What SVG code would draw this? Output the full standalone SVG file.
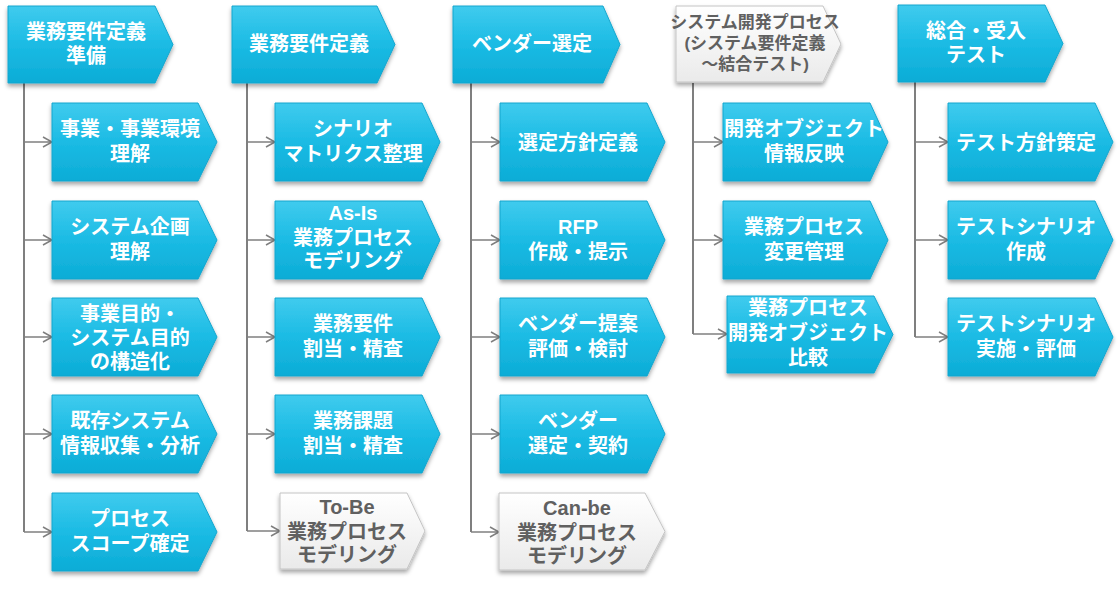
<svg xmlns="http://www.w3.org/2000/svg" width="1120" height="592" viewBox="0 0 1120 592">
<defs>
<linearGradient id="cy" x1="0" y1="0" x2="0" y2="1">
<stop offset="0" stop-color="#40CBEE"/>
<stop offset="0.5" stop-color="#1BBBE4"/>
<stop offset="1" stop-color="#0CACD6"/>
</linearGradient>
<linearGradient id="wh" x1="0" y1="0" x2="0" y2="1">
<stop offset="0" stop-color="#FFFFFF"/>
<stop offset="1" stop-color="#EAEAEA"/>
</linearGradient>
<filter id="sh" x="-10%" y="-10%" width="120%" height="130%">
<feDropShadow dx="0" dy="3" stdDeviation="2" flood-color="#000" flood-opacity="0.35"/>
</filter>
<marker id="ar" markerWidth="12" markerHeight="12" refX="10" refY="6" orient="auto" markerUnits="userSpaceOnUse">
<path d="M1,1 L10,6 L1,11" fill="none" stroke="#7F7F7F" stroke-width="1.5"/>
</marker>
</defs>
<style>
.c{fill:url(#cy);stroke:#14A6CE;stroke-width:1;filter:url(#sh)}
.w{fill:url(#wh);stroke:#C4C4C4;stroke-width:1;filter:url(#sh)}
text{font-family:"Liberation Sans","Noto Sans CJK JP",sans-serif;font-weight:bold;font-size:20px;text-anchor:middle}
.t{fill:#FFFFFF}
.g{fill:#606060}
.s{font-size:17px}
.v{stroke:#7F7F7F;stroke-width:2;fill:none}
.h{stroke:#7F7F7F;stroke-width:1.5;fill:none;marker-end:url(#ar)}
</style>
<rect width="1120" height="592" fill="#FFFFFF"/>

<g id="connectors">
<line class="v" x1="24" y1="83" x2="24" y2="532"/>
<line class="h" x1="24" y1="142" x2="52" y2="142"/>
<line class="h" x1="24" y1="240" x2="52" y2="240"/>
<line class="h" x1="24" y1="337" x2="52" y2="337"/>
<line class="h" x1="24" y1="434" x2="52" y2="434"/>
<line class="h" x1="24" y1="532" x2="52" y2="532"/>

<line class="v" x1="247" y1="83" x2="247" y2="531"/>
<line class="h" x1="247" y1="142" x2="275" y2="142"/>
<line class="h" x1="247" y1="240" x2="275" y2="240"/>
<line class="h" x1="247" y1="337" x2="275" y2="337"/>
<line class="h" x1="247" y1="434" x2="275" y2="434"/>
<line class="h" x1="247" y1="531" x2="280" y2="531"/>

<line class="v" x1="471" y1="83" x2="471" y2="532"/>
<line class="h" x1="471" y1="142" x2="500" y2="142"/>
<line class="h" x1="471" y1="240" x2="500" y2="240"/>
<line class="h" x1="471" y1="337" x2="500" y2="337"/>
<line class="h" x1="471" y1="434" x2="500" y2="434"/>
<line class="h" x1="471" y1="532" x2="499" y2="532"/>

<line class="v" x1="693" y1="83" x2="693" y2="334"/>
<line class="h" x1="693" y1="142" x2="723" y2="142"/>
<line class="h" x1="693" y1="240" x2="723" y2="240"/>
<line class="h" x1="693" y1="334" x2="727" y2="334"/>

<line class="v" x1="915" y1="82" x2="915" y2="337"/>
<line class="h" x1="915" y1="142" x2="948" y2="142"/>
<line class="h" x1="915" y1="240" x2="948" y2="240"/>
<line class="h" x1="915" y1="337" x2="948" y2="337"/>
</g>

<!-- Column 1 -->
<g id="h1"><path class="c" d="M8 6h147l18 38.5l-18 38.5h-147z"/>
<text class="t"><tspan x="86" y="39">業務要件定義</tspan><tspan x="86" y="63">準備</tspan></text></g>
<g id="n1a"><path class="c" d="M52 103h146l19 39l-19 39h-146z"/>
<text class="t"><tspan x="130" y="135.5">事業・事業環境</tspan><tspan x="130" y="160.5">理解</tspan></text></g>
<g id="n1b"><path class="c" d="M52 201h146l19 39l-19 39h-146z"/>
<text class="t"><tspan x="130" y="233.5">システム企画</tspan><tspan x="130" y="258.5">理解</tspan></text></g>
<g id="n1c"><path class="c" d="M52 298h146l19 39l-19 39h-146z"/>
<text class="t"><tspan x="130" y="320.5">事業目的・</tspan><tspan x="130" y="344.5">システム目的</tspan><tspan x="130" y="368.5">の構造化</tspan></text></g>
<g id="n1d"><path class="c" d="M52 395h146l19 39l-19 39h-146z"/>
<text class="t"><tspan x="130" y="427.5">既存システム</tspan><tspan x="130" y="452.5">情報収集・分析</tspan></text></g>
<g id="n1e"><path class="c" d="M52 493h146l19 39l-19 39h-146z"/>
<text class="t"><tspan x="130" y="525.5">プロセス</tspan><tspan x="130" y="550.5">スコープ確定</tspan></text></g>

<!-- Column 2 -->
<g id="h2"><path class="c" d="M232 6h145l18 38.5l-18 38.5h-145z"/>
<text class="t" x="309" y="51">業務要件定義</text></g>
<g id="n2a"><path class="c" d="M275 103h147l18 39l-18 39h-147z"/>
<text class="t"><tspan x="353" y="135.5">シナリオ</tspan><tspan x="353" y="160.5">マトリクス整理</tspan></text></g>
<g id="n2b"><path class="c" d="M275 201h147l18 39l-18 39h-147z"/>
<text class="t"><tspan x="353" y="220">As-Is</tspan><tspan x="353" y="244.5">業務プロセス</tspan><tspan x="353" y="268">モデリング</tspan></text></g>
<g id="n2c"><path class="c" d="M275 298h147l18 39l-18 39h-147z"/>
<text class="t"><tspan x="353" y="330.5">業務要件</tspan><tspan x="353" y="355.5">割当・精査</tspan></text></g>
<g id="n2d"><path class="c" d="M275 395h147l18 39l-18 39h-147z"/>
<text class="t"><tspan x="353" y="427.5">業務課題</tspan><tspan x="353" y="452.5">割当・精査</tspan></text></g>
<g id="n2e"><path class="w" d="M280 493h127l18 38l-18 38h-127z"/>
<text class="g"><tspan x="347" y="514">To-Be</tspan><tspan x="347" y="538.5">業務プロセス</tspan><tspan x="347" y="562">モデリング</tspan></text></g>

<!-- Column 3 -->
<g id="h3"><path class="c" d="M453 6h150l17 38.5l-17 38.5h-150z"/>
<text class="t" x="532" y="51">ベンダー選定</text></g>
<g id="n3a"><path class="c" d="M500 103h147l18 39l-18 39h-147z"/>
<text class="t" x="578" y="149.5">選定方針定義</text></g>
<g id="n3b"><path class="c" d="M500 201h147l18 39l-18 39h-147z"/>
<text class="t"><tspan x="578" y="233.5">RFP</tspan><tspan x="578" y="258.5">作成・提示</tspan></text></g>
<g id="n3c"><path class="c" d="M500 298h147l18 39l-18 39h-147z"/>
<text class="t"><tspan x="578" y="330.5">ベンダー提案</tspan><tspan x="578" y="355.5">評価・検討</tspan></text></g>
<g id="n3d"><path class="c" d="M500 395h147l18 39l-18 39h-147z"/>
<text class="t"><tspan x="578" y="427.5">ベンダー</tspan><tspan x="578" y="452.5">選定・契約</tspan></text></g>
<g id="n3e"><path class="w" d="M499 493h146l20 38.5l-20 38.5h-146z"/>
<text class="g"><tspan x="577" y="515">Can-be</tspan><tspan x="577" y="539.5">業務プロセス</tspan><tspan x="577" y="563">モデリング</tspan></text></g>

<!-- Column 4 -->
<g id="h4"><path class="w" d="M676 6h147l18 38l-18 38h-147z"/>
<text class="g s"><tspan x="755" y="28">システム開発プロセス</tspan><tspan x="755" y="49">(システム要件定義</tspan><tspan x="755" y="69.5">～結合テスト)</tspan></text></g>
<g id="n4a"><path class="c" d="M723 103h147l18 39l-18 39h-147z"/>
<text class="t"><tspan x="804" y="135.5">開発オブジェクト</tspan><tspan x="804" y="160.5">情報反映</tspan></text></g>
<g id="n4b"><path class="c" d="M723 201h147l18 39l-18 39h-147z"/>
<text class="t"><tspan x="804" y="233.5">業務プロセス</tspan><tspan x="804" y="258.5">変更管理</tspan></text></g>
<g id="n4c"><path class="c" d="M727 296h147l19 38.5l-19 38.5h-147z"/>
<text class="t"><tspan x="808" y="314.5">業務プロセス</tspan><tspan x="808" y="339.5">開発オブジェクト</tspan><tspan x="808" y="364.5">比較</tspan></text></g>

<!-- Column 5 -->
<g id="h5"><path class="c" d="M898 5h147l18 38.5l-18 38.5h-147z"/>
<text class="t"><tspan x="976" y="38">総合・受入</tspan><tspan x="976" y="62">テスト</tspan></text></g>
<g id="n5a"><path class="c" d="M948 103h147l18 39l-18 39h-147z"/>
<text class="t" x="1026" y="149.5">テスト方針策定</text></g>
<g id="n5b"><path class="c" d="M948 201h147l18 39l-18 39h-147z"/>
<text class="t"><tspan x="1026" y="233.5">テストシナリオ</tspan><tspan x="1026" y="258.5">作成</tspan></text></g>
<g id="n5c"><path class="c" d="M948 298h147l18 39l-18 39h-147z"/>
<text class="t"><tspan x="1026" y="330.5">テストシナリオ</tspan><tspan x="1026" y="355.5">実施・評価</tspan></text></g>
</svg>
